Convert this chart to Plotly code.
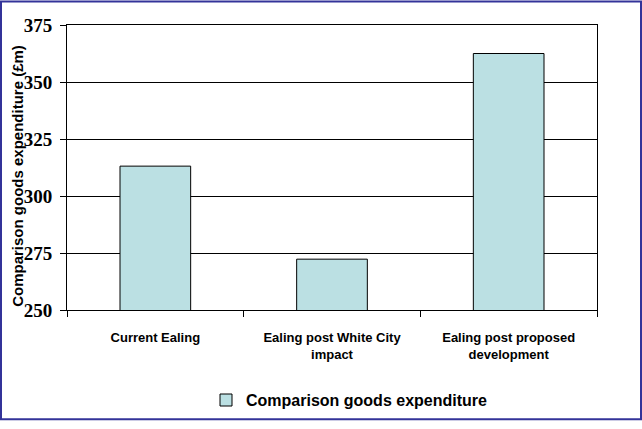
import plotly.graph_objects as go

categories = ["Current Ealing", "Ealing post White City impact", "Ealing post proposed development"]
tick_labels = ["Current Ealing", "Ealing post White City<br>impact", "Ealing post proposed<br>development"]
values = [313.1, 272.3, 362.5]
series_name = "Comparison goods expenditure"
y_title = "Comparison goods expenditure (£m)"

W, H = 642, 429
L, R, T, B = 67, 45, 25, 113
pw, ph = W - L - R, H - T - B

fig = go.Figure()
fig.add_trace(go.Bar(
    x=categories, y=values, name=series_name,
    marker=dict(color="#BBE0E3", line=dict(color="black", width=1)),
    showlegend=True,
))

def px_x(p):
    return (p - L) / pw

def px_y(p):
    return (H - B - p) / ph

fig.update_layout(
    width=W, height=H,
    margin=dict(l=L, r=R, t=T, b=B),
    paper_bgcolor="white", plot_bgcolor="white",
    bargap=0.6,
    showlegend=True,
    legend=dict(orientation="h", x=px_x(206), xanchor="left", y=px_y(408), yanchor="middle",
                font=dict(family="Liberation Sans", size=16, color="black", weight="bold"),
                itemwidth=30),
    xaxis=dict(
        tickmode="array", tickvals=categories, ticktext=tick_labels,
        tickson="boundaries", ticks="outside", ticklen=6, tickcolor="black",
        showline=True, linecolor="black", linewidth=1, mirror=True,
        tickfont=dict(family="Liberation Sans", size=13, color="black", weight="bold"),
        ticklabelstandoff=15,
    ),
    yaxis=dict(
        range=[250, 375], dtick=25, tick0=250,
        ticks="outside", ticklen=6, tickcolor="black",
        showgrid=True, gridcolor="black", gridwidth=1,
        showline=True, linecolor="black", linewidth=1, mirror=True,
        tickfont=dict(family="Liberation Serif", size=19, color="black", weight="bold"),
        ticklabelstandoff=4,
        zeroline=False,
    ),
    annotations=[dict(text=y_title, xref="paper", yref="paper", x=px_x(18), y=px_y(179),
                      xanchor="center", yanchor="middle", textangle=-90, showarrow=False,
                      font=dict(family="Liberation Sans", size=15, color="black", weight="bold"))],
    shapes=[dict(type="rect", xref="paper", yref="paper",
                 x0=px_x(1), x1=px_x(W - 1), y0=px_y(H - 1.5), y1=px_y(1),
                 line=dict(color="#333399", width=2), fillcolor="rgba(0,0,0,0)", layer="above")],
)

fig.write_html("out.html",
               config={"displayModeBar": False, "responsive": False},
               post_script="document.body.style.margin='0';document.body.style.overflow='hidden';")
